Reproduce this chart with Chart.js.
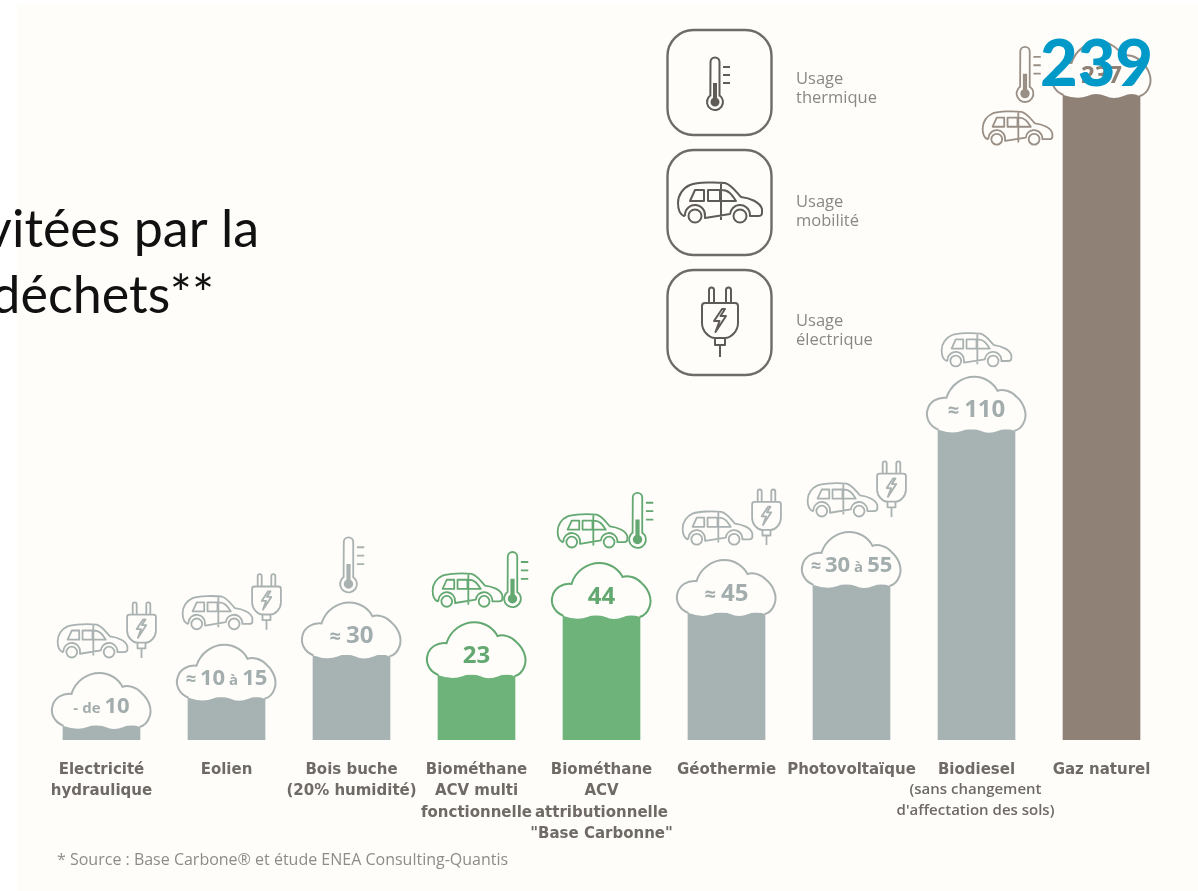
<!DOCTYPE html>
<html>
<head>
<meta charset="utf-8">
<title>Emissions par filière</title>
<script src="https://cdn.jsdelivr.net/npm/chart.js@4"></script>
<style>
    html, body { margin: 0; padding: 0; background: #ffffff; overflow: hidden; }
    canvas { display: block; }
</style>
</head>
<body>
<canvas id="emissionsChart" width="1198" height="891"></canvas>
<script>
const categories = [
    ['Electricité', 'hydraulique'],
    ['Eolien'],
    ['Bois buche', '(20% humidité)'],
    ['Biométhane', 'ACV multi', 'fonctionnelle'],
    ['Biométhane', 'ACV', 'attributionnelle', '"Base Carbonne"'],
    ['Géothermie'],
    ['Photovoltaïque'],
    ['Biodiesel'],
    ['Gaz naturel']
];
const biodieselNote = ['(sans changement', "d'affectation des sols)"];
const values = [5, 15, 30, 23, 44, 45, 55, 110, 239];
const cloudLabels = ['- de 10', '≈ 10 à 15', '≈ 30', '23', '44', '≈ 45', '≈ 30 à 55', '≈ 110', '237'];
const families = ['grey', 'grey', 'grey', 'green', 'green', 'grey', 'grey', 'grey', 'brown'];
const usages = [
    ['car', 'plug'],
    ['car', 'plug'],
    ['thermo'],
    ['car', 'thermo'],
    ['car', 'thermo'],
    ['car', 'plug'],
    ['car', 'plug'],
    ['car'],
    ['car', 'thermo']
];
const legendItems = [
    ['thermo', 'Usage', 'thermique'],
    ['car', 'Usage', 'mobilité'],
    ['plug', 'Usage', 'électrique']
];
const headlineLines = ['vitées par la', 'déchets**'];
const overlayValue = '239';
const sourceNote = '* Source : Base Carbone® et étude ENEA Consulting-Quantis';

const PAPER = '#fefdfa';
const barColors = { grey: '#a7b2b3', green: '#6db37a', brown: '#8f8175' };
const lineColors = { grey: '#a9b1b1', green: '#62a870', brown: '#9a8f85' };
const textColors = { grey: '#a3adad', green: '#62a870', brown: '#8f8175' };

// cloud outline in a 100 x 56 box, open along the bottom
const cloudTop = 'M12 53 C2 49 -1 40 1 33 C3 25 11 20 20 21 C24 8 36 0 48 0 C58 0 67 6 71 14 ' +
    'C76 12 85 14 90 20 C97 26 101 36 98 44 C96 50 92 53 88 54';
const cloudBottom = ' Q80 50 72 54 Q62 58 54 54 Q44 50 36 54 Q26 58 12 53 Z';

function drawCloud(ctx, cx, bottom, family) {
    ctx.save();
    ctx.translate(cx - 50, bottom - 56);
    ctx.fillStyle = PAPER;
    ctx.fill(new Path2D(cloudTop + cloudBottom));
    ctx.strokeStyle = lineColors[family];
    ctx.lineWidth = 2;
    ctx.stroke(new Path2D(cloudTop));
    ctx.restore();
}

// "de" and "à" are set smaller than the figures around them
function drawCloudLabel(ctx, text, cx, cy, family) {
    const long = text.length > 6;
    const big = long ? 22 : 24;
    const tokens = text.split(' ').map(t => ({
        t: t,
        size: (t === 'de' || t === 'à' || t === '-') ? big - 7 : (t === '≈' ? big - 4 : big)
    }));
    const gap = long ? 4 : 5;
    let width = -gap;
    tokens.forEach(tk => {
        ctx.font = '700 ' + tk.size + 'px "Open Sans"';
        tk.w = ctx.measureText(tk.t).width;
        width += tk.w + gap;
    });
    ctx.save();
    ctx.fillStyle = textColors[family];
    ctx.textAlign = 'left';
    ctx.textBaseline = 'alphabetic';
    let x = cx - width / 2;
    tokens.forEach(tk => {
        ctx.font = '700 ' + tk.size + 'px "Open Sans"';
        ctx.fillText(tk.t, x, cy + big * 0.36);
        x += tk.w + gap;
    });
    ctx.restore();
}

// car in an 84 x 41 box
function drawCar(ctx, cx, bottom, scale, color, lw) {
    ctx.save();
    ctx.translate(cx - 42 * scale, bottom - 41 * scale);
    ctx.scale(scale, scale);
    ctx.strokeStyle = color;
    ctx.lineWidth = lw / scale;
    ctx.lineJoin = 'round';
    ctx.beginPath();
    ctx.moveTo(6, 34);
    ctx.bezierCurveTo(1, 32, 0, 27, 0, 21);
    ctx.bezierCurveTo(0, 13, 5, 6, 12, 3);
    ctx.bezierCurveTo(20, 0, 38, 0, 47, 1);
    ctx.bezierCurveTo(54, 3, 58, 10, 63, 15);
    ctx.bezierCurveTo(72, 16, 82, 20, 84, 27);
    ctx.lineTo(84, 31);
    ctx.bezierCurveTo(84, 33, 82, 34, 80, 34);
    ctx.lineTo(72, 34);
    ctx.arc(62, 33, 10, -0.1, Math.PI + 0.1, true);
    ctx.lineTo(27, 36);
    ctx.arc(17, 33, 10, 0.1, Math.PI, true);
    ctx.closePath();
    ctx.moveTo(43, 0);
    ctx.lineTo(43, 38);
    ctx.moveTo(12, 19);
    ctx.lineTo(26, 19);
    ctx.lineTo(26, 8);
    ctx.lineTo(17, 8);
    ctx.closePath();
    ctx.moveTo(30, 19);
    ctx.lineTo(42, 19);
    ctx.lineTo(42, 8);
    ctx.lineTo(30, 8);
    ctx.closePath();
    ctx.moveTo(44, 19);
    ctx.lineTo(58, 19);
    ctx.bezierCurveTo(54, 13, 51, 8, 44, 8);
    ctx.stroke();
    ctx.beginPath();
    ctx.arc(17, 34, 6.5, 0, Math.PI * 2);
    ctx.moveTo(68.5, 34);
    ctx.arc(62, 34, 6.5, 0, Math.PI * 2);
    ctx.stroke();
    ctx.restore();
}

// thermometer in a 24 x 53 box, tube centred on cx
function drawThermo(ctx, cx, bottom, scale, color, lw) {
    ctx.save();
    ctx.translate(cx - 8 * scale, bottom - 53 * scale);
    ctx.scale(scale, scale);
    ctx.strokeStyle = color;
    ctx.fillStyle = color;
    ctx.lineWidth = lw / scale;
    ctx.beginPath();
    ctx.moveTo(3.5, 5);
    ctx.arc(8, 5, 4.5, Math.PI, 0);
    ctx.lineTo(12.5, 38.5);
    ctx.arc(8, 45, 8, -0.95, Math.PI + 0.95);
    ctx.closePath();
    ctx.stroke();
    ctx.beginPath();
    ctx.arc(8, 45, 4.5, 0, Math.PI * 2);
    ctx.rect(6, 26, 4, 18);
    ctx.fill();
    ctx.beginPath();
    [10, 18, 26].forEach(y => {
        ctx.moveTo(16, y);
        ctx.lineTo(23, y);
    });
    ctx.stroke();
    ctx.restore();
}

// plug in a 36 x 69 box
function drawPlug(ctx, cx, bottom, scale, color, lw) {
    ctx.save();
    ctx.translate(cx - 18 * scale, bottom - 69 * scale);
    ctx.scale(scale, scale);
    ctx.strokeStyle = color;
    ctx.lineWidth = lw / scale;
    ctx.lineJoin = 'round';
    ctx.beginPath();
    ctx.moveTo(7, 15);
    ctx.lineTo(7, 2);
    ctx.arc(9.5, 2, 2.5, Math.PI, 0);
    ctx.lineTo(12, 15);
    ctx.moveTo(24, 15);
    ctx.lineTo(24, 2);
    ctx.arc(26.5, 2, 2.5, Math.PI, 0);
    ctx.lineTo(29, 15);
    ctx.moveTo(3, 15);
    ctx.lineTo(33, 15);
    ctx.bezierCurveTo(35, 15, 36, 16, 36, 18);
    ctx.lineTo(36, 35);
    ctx.bezierCurveTo(36, 43, 29, 50, 23, 50);
    ctx.lineTo(13, 50);
    ctx.bezierCurveTo(7, 50, 0, 43, 0, 35);
    ctx.lineTo(0, 18);
    ctx.bezierCurveTo(0, 16, 1, 15, 3, 15);
    ctx.moveTo(13, 50);
    ctx.lineTo(13, 57);
    ctx.lineTo(23, 57);
    ctx.lineTo(23, 50);
    ctx.moveTo(18, 57);
    ctx.lineTo(18, 69);
    ctx.moveTo(20, 21);
    ctx.lineTo(12, 33);
    ctx.lineTo(17.5, 33);
    ctx.lineTo(13.5, 44);
    ctx.lineTo(24, 28);
    ctx.lineTo(18.5, 28);
    ctx.lineTo(23, 21);
    ctx.closePath();
    ctx.stroke();
    ctx.restore();
}

// small usage icons sitting above a cloud
function drawUsageIcons(ctx, index, cx, top) {
    const kinds = usages[index];
    const color = lineColors[families[index]];
    if (index === values.length - 1) {
        // the tallest bar has no room above it, icons go on its left
        drawThermo(ctx, cx - 76.5, top + 60, 1.05, color, 1.8);
        drawCar(ctx, cx - 84, top + 103, 0.83, color, 1.8);
    } else if (kinds.length === 1) {
        if (kinds[0] === 'car') {
            drawCar(ctx, cx, top - 10, 0.83, color, 1.8);
        } else {
            drawThermo(ctx, cx - 3, top - 10, 1.05, color, 1.8);
        }
    } else {
        drawCar(ctx, cx - 9, top - 15, 0.83, color, 1.8);
        if (kinds[1] === 'plug') {
            drawPlug(ctx, cx + 40, top - 15, 0.8, color, 1.8);
        } else {
            drawThermo(ctx, cx + 36, top - 15, 1.05, color, 1.8);
        }
    }
}

function drawLegend(ctx) {
    const textOffsets = [49, 52, 51];
    legendItems.forEach((item, i) => {
        const top = 30 + i * 120;
        ctx.save();
        ctx.strokeStyle = '#6f6b66';
        ctx.lineWidth = 2.4;
        ctx.beginPath();
        ctx.roundRect(667.5, top, 104, 105, 26);
        ctx.stroke();
        ctx.fillStyle = '#8a8884';
        ctx.font = '400 16.5px "Open Sans"';
        ctx.textAlign = 'left';
        ctx.textBaseline = 'middle';
        ctx.fillText(item[1], 796, top + textOffsets[i]);
        ctx.fillText(item[2], 796, top + textOffsets[i] + 19);
        ctx.restore();
        if (item[0] === 'thermo') {
            drawThermo(ctx, 715, top + 80, 1, '#5f5b57', 2);
        } else if (item[0] === 'car') {
            drawCar(ctx, 720, top + 73, 1, '#5f5b57', 2);
        } else {
            drawPlug(ctx, 720, top + 87, 1, '#5f5b57', 2);
        }
    });
}

const decorations = {
    id: 'decorations',
    beforeDraw(chart) {
        const ctx = chart.ctx;
        ctx.save();
        ctx.fillStyle = PAPER;
        ctx.fillRect(17, 4, chart.width - 17, chart.height - 4);
        ctx.restore();
    },
    afterDatasetsDraw(chart) {
        const ctx = chart.ctx;
        const bars = chart.getDatasetMeta(0).data;
        bars.forEach((bar, i) => {
            // clouds cover the bar tops; the last one stays inside the page
            const bottom = Math.max(bar.y + 3, 98);
            const top = bottom - 56;
            drawCloud(ctx, bar.x, bottom, families[i]);
            drawCloudLabel(ctx, cloudLabels[i], bar.x, bottom - 24, families[i]);
            drawUsageIcons(ctx, i, bar.x, top);
        });
    },
    afterDraw(chart) {
        const ctx = chart.ctx;
        const bars = chart.getDatasetMeta(0).data;
        drawLegend(ctx);

        ctx.save();
        ctx.textBaseline = 'middle';
        ctx.textAlign = 'center';
        ctx.fillStyle = '#6f6a65';
        ctx.font = '600 15px "Open Sans"';
        biodieselNote.forEach((line, i) => {
            ctx.fillText(line, bars[7].x - 1, 790 + i * 21);
        });

        ctx.fillStyle = '#8c8c88';
        ctx.font = '400 16px "Open Sans"';
        ctx.textAlign = 'left';
        ctx.fillText(sourceNote, 57, 860);

        ctx.fillStyle = '#111111';
        ctx.font = '400 52px Lato';
        ctx.textAlign = 'right';
        ctx.textBaseline = 'alphabetic';
        ctx.fillText(headlineLines[0], 259, 247);
        ctx.fillText(headlineLines[1], 214, 313);

        ctx.fillStyle = '#0099c8';
        ctx.font = '900 65px Lato';
        ctx.textAlign = 'center';
        ctx.fillText(overlayValue, bars[values.length - 1].x - 5, 86);
        ctx.restore();
    }
};

new Chart(document.getElementById('emissionsChart'), {
    type: 'bar',
    data: {
        labels: categories,
        datasets: [{
            data: values,
            backgroundColor: families.map(f => barColors[f]),
            borderWidth: 0,
            barThickness: 77
        }]
    },
    options: {
        responsive: false,
        animation: false,
        layout: { padding: { left: 39, right: 34, top: 35, bottom: 0 } },
        plugins: {
            legend: { display: false },
            tooltip: { enabled: false }
        },
        scales: {
            x: {
                grid: { display: false },
                border: { display: false },
                afterFit(scale) { scale.height = 151; },
                ticks: {
                    autoSkip: false,
                    maxRotation: 0,
                    minRotation: 0,
                    padding: 11,
                    color: '#6f6a65',
                    font: { family: '"DejaVu Sans"', size: 15, weight: '700', lineHeight: 1.43 }
                }
            },
            y: {
                display: false,
                min: 0,
                max: 250
            }
        }
    },
    plugins: [decorations]
});
</script>
</body>
</html>
